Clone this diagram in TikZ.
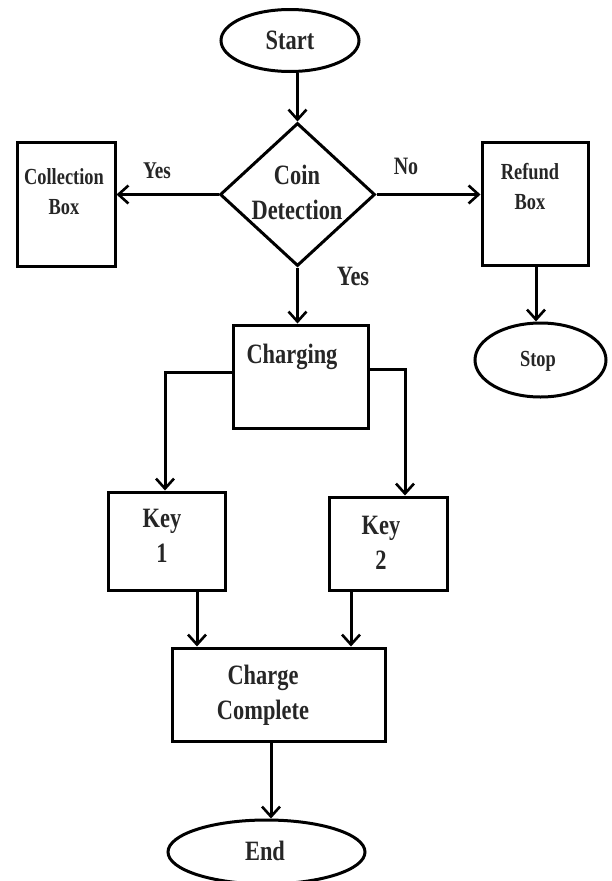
\documentclass[tikz,border=0pt]{standalone}
\usepackage{fontspec}
\setmainfont{Liberation Serif}[FakeStretch=0.8]
\usetikzlibrary{shapes.geometric,arrows.meta}
\begin{document}
\begin{tikzpicture}[x=1pt,y=-1pt,
  line width=3pt,
  shapebox/.style={draw=black,rectangle,inner sep=0pt},
  oval/.style={draw=black,ellipse,inner sep=0pt},
  big/.style={font=\fontsize{28}{35}\selectfont\bfseries,text=black!85,align=center,inner sep=0pt},
  small/.style={font=\fontsize{23}{30}\selectfont\bfseries,text=black!85,align=center,inner sep=0pt},
  arr/.style={-{Straight Barb[length=10pt,width=18pt,line width=2.6pt]}}]
\useasboundingbox (0,0) rectangle (611,881);
% shapes
\node[oval,minimum width=138pt,minimum height=62pt] (start) at (290,40.5) {};
\node[draw=black,diamond,inner sep=0pt,minimum width=155pt,minimum height=143pt] (dec) at (297.5,194.5) {};
\node[shapebox,minimum width=98pt,minimum height=124pt] (coll) at (66,204) {};
\node[shapebox,minimum width=106pt,minimum height=123pt] (refund) at (535,203.5) {};
\node[oval,minimum width=131pt,minimum height=74pt] (stop) at (540.5,360) {};
\node[shapebox,minimum width=135pt,minimum height=103pt] (charging) at (300.5,376.5) {};
\node[shapebox,minimum width=117pt,minimum height=98pt] (key1) at (166.5,541) {};
\node[shapebox,minimum width=118pt,minimum height=93pt] (key2) at (388,543.5) {};
\node[shapebox,minimum width=213pt,minimum height=93pt] (cc) at (278.5,694.5) {};
\node[oval,minimum width=197pt,minimum height=64pt] (end) at (266.5,852) {};
% texts
\node[big] (tstart) at (290,40.5) {Start};
\node[big] (tdec) at (297,192.5) {Coin\\Detection};
\node[small] (tcoll) at (64,192) {Collection\\Box};
\node[small] (trefund) at (530,186.5) {Refund\\Box};
\node[small] (tstop) at (538,361) {Stop};
\node[big] (tcharging) at (292,357) {Charging};
\node[big] (tkey1) at (162,535.5) {Key\\1};
\node[big] (tkey2) at (381,542.5) {Key\\2};
\node[big] (tcc) at (263,695) {Charge\\Complete};
\node[big] (tend) at (265,851) {End};
% labels
\node[small,font=\fontsize{24}{30}\selectfont\bfseries] (lyes1) at (157,171) {Yes};
\node[small,font=\fontsize{25}{30}\selectfont\bfseries] (lno) at (406,166) {No};
\node[big] (lyes2) at (353,276) {Yes};
% connectors
\draw[arr] (dec.north |- start.south) -- (dec.north);
\draw[arr] (dec.west) -- (dec.west -| coll.east);
\draw[arr] (dec.east) -- (dec.east -| refund.west);
\draw[arr] (dec.south) -- (dec.south |- charging.north);
\draw[arr] ([xshift=1pt]refund.south) -- ([xshift=1pt]refund.south |- stop.north);
\draw[arr] (charging.west |- {(0,372)}) -| ([xshift=-1.5pt]key1.north);
\draw[arr] (charging.east |- {(0,369)}) -| ([xshift=17pt]key2.north);
\draw[arr] ([xshift=30.5pt]key1.south) -- ([xshift=30.5pt]key1.south |- cc.north);
\draw[arr] ([xshift=-37pt]key2.south) -- ([xshift=-37pt]key2.south |- cc.north);
\draw[arr] ([xshift=-7.5pt]cc.south) -- ([xshift=-7.5pt]cc.south |- end.north);
\end{tikzpicture}
\end{document}
